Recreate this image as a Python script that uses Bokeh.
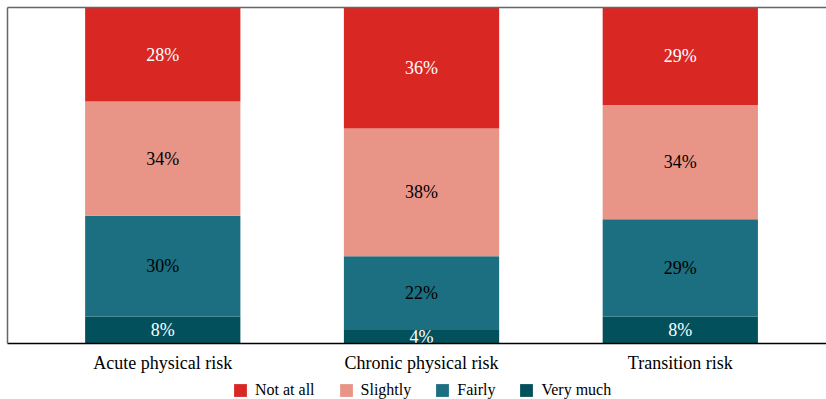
from bokeh.plotting import figure
from bokeh.layouts import column
from bokeh.models import (ColumnDataSource, Range1d, FixedTicker, Legend, LegendItem, LinearAxis)
from bokeh.core.properties import value
from bokeh.embed import file_html
from bokeh.resources import INLINE

categories = ["Acute physical risk", "Chronic physical risk", "Transition risk"]
levels = ["Very much", "Fairly", "Slightly", "Not at all"]
legend_order = ["Not at all", "Slightly", "Fairly", "Very much"]
very_much = [8, 4, 8]
fairly = [30, 22, 29]
slightly = [34, 38, 34]
not_at_all = [28, 36, 29]
colors = {"Very much": "#03505D", "Fairly": "#1B6F80", "Slightly": "#E89587", "Not at all": "#D92823"}
text_colors = {"Very much": "white", "Fairly": "black", "Slightly": "black", "Not at all": "white"}

series = {"Very much": very_much, "Fairly": fairly, "Slightly": slightly, "Not at all": not_at_all}
xs = list(range(len(categories)))

FONT = "Liberation Serif"

p = figure(width=826, height=377, output_backend="svg", toolbar_location=None,
           x_range=Range1d(-0.6, 2.565), y_range=Range1d(0, 100),
           min_border_left=7, min_border_top=7, min_border_right=0, min_border_bottom=34)

bottom = [0, 0, 0]
for lvl in levels:
    vals = series[lvl]
    top = [b + v for b, v in zip(bottom, vals)]
    src = ColumnDataSource(dict(x=xs, bottom=bottom, top=top,
                                mid=[(b + t) / 2 for b, t in zip(bottom, top)],
                                lab=[f"{v}%" for v in vals]))
    p.vbar(x="x", bottom="bottom", top="top", width=0.6, source=src,
           fill_color=colors[lvl], line_color=None)
    p.text(x="x", y="mid", text="lab", source=src, text_align="center",
           text_baseline="middle", text_font=value(FONT), text_font_size="18px",
           text_color=text_colors[lvl])
    bottom = top

p.xgrid.visible = False
p.ygrid.visible = False
p.outline_line_color = None

xa = p.below[0]
xa.ticker = FixedTicker(ticks=xs)
xa.major_label_overrides = {i: c for i, c in enumerate(categories)}
xa.major_tick_line_color = None
xa.minor_tick_line_color = None
xa.axis_line_color = "black"
xa.axis_line_width = 1.5
xa.major_label_text_font = FONT
xa.major_label_text_font_size = "18px"
xa.major_label_text_color = "black"
xa.major_label_standoff = 3

ya = p.left[0]
ya.ticker = FixedTicker(ticks=[])
ya.axis_line_color = "#666666"
ya.axis_line_width = 1.5
ya.major_tick_line_color = None
ya.minor_tick_line_color = None
ya.major_label_text_font_size = "0px"

top_axis = LinearAxis(ticker=FixedTicker(ticks=[]), axis_line_color="#666666", axis_line_width=1.5,
                      major_tick_line_color=None, minor_tick_line_color=None,
                      major_label_text_font_size="0px")
p.add_layout(top_axis, "above")

# legend strip
lg = figure(width=826, height=22, output_backend="svg", toolbar_location=None,
            x_range=Range1d(0, 1), y_range=Range1d(0, 1),
            min_border_left=0, min_border_top=0, min_border_right=0, min_border_bottom=0)
lg.axis.visible = False
lg.grid.visible = False
lg.outline_line_color = None
items = []
for lvl in legend_order:
    r = lg.vbar(x=[5], top=[1], width=0.5, fill_color=colors[lvl], line_color=None)
    items.append(LegendItem(label=lvl, renderers=[r]))
legend = Legend(items=items, orientation="horizontal", location=(225, 0),
                glyph_width=16, glyph_height=16, label_standoff=7, spacing=23,
                label_text_font=FONT, label_text_font_size="16px",
                label_text_color="black", background_fill_alpha=0,
                border_line_color=None, padding=0, margin=0)
lg.add_layout(legend, "center")

layout = column(p, lg, spacing=0)
open("out.html", "w").write(file_html(layout, INLINE))
